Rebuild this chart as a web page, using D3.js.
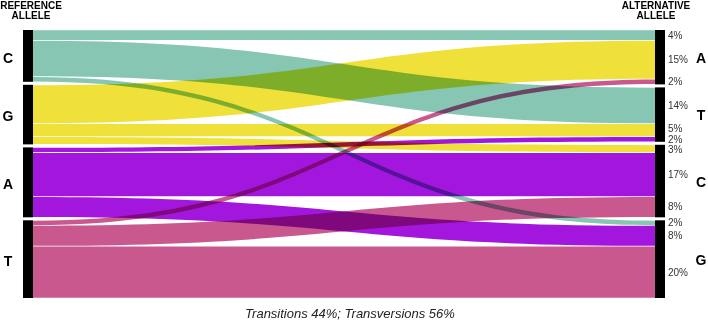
<!DOCTYPE html>
<html>
<head>
<meta charset="utf-8">
<script src="https://cdn.jsdelivr.net/npm/d3@7"></script>
<style>
  body { margin: 0; background: #fff; }
  svg { display: block; background: #fff; }
  .flow { mix-blend-mode: multiply; }
</style>
</head>
<body>
<div id="chart"></div>
<script>
// reference / alternative allele order, top to bottom
const refAlleles = ["C", "G", "A", "T"];
const altAlleles = ["A", "T", "C", "G"];

// substitutions (percent of all)
const sources  = ["C", "C", "C", "G", "G", "G", "A", "A", "A", "T", "T", "T"];
const targets  = ["A", "T", "G", "A", "T", "C", "T", "C", "G", "A", "C", "G"];
const percents = [4, 14, 2, 15, 5, 3, 2, 17, 8, 2, 8, 20];

const caption = "Transitions 44%; Transversions 56%";

const alleleColors = {C: "#86c6b2", G: "#f0e03a", A: "#a216de", T: "#c9588f"};

const width = 708, height = 323;
const margin = {top: 30, bottom: 25};
const nodeW = 10, pad = 3;
const xLeft = 23, xRight = 655;

const svg = d3.select("#chart").append("svg")
  .attr("width", width).attr("height", height);

const flows = sources.map((s, i) => ({source: s, target: targets[i], value: percents[i]}));
const total = d3.sum(percents);

const y = d3.scaleLinear()
  .domain([0, total])
  .range([0, height - margin.top - margin.bottom - pad * (refAlleles.length - 1)]);

function layoutNodes(names, key) {
  let y0 = margin.top;
  return names.map(n => {
    const v = d3.sum(flows.filter(f => f[key] === n), f => f.value);
    const node = {name: n, y0: y0, y1: y0 + y(v)};
    y0 = node.y1 + pad;
    return node;
  });
}

const leftNodes = layoutNodes(refAlleles, "source");
const rightNodes = layoutNodes(altAlleles, "target");

// stack flows inside each node
leftNodes.forEach(n => {
  let yy = n.y0;
  flows.filter(f => f.source === n.name)
    .sort((a, b) => altAlleles.indexOf(a.target) - altAlleles.indexOf(b.target))
    .forEach(f => { f.sy0 = yy; yy += y(f.value); f.sy1 = yy; });
});
rightNodes.forEach(n => {
  let yy = n.y0;
  flows.filter(f => f.target === n.name)
    .sort((a, b) => refAlleles.indexOf(a.source) - refAlleles.indexOf(b.source))
    .forEach(f => { f.ty0 = yy; yy += y(f.value); f.ty1 = yy; });
});

const x0 = xLeft + nodeW, x1 = xRight, xm = (x0 + x1) / 2;
const inset = 0.35;

function ribbon(f) {
  const a0 = f.sy0 + inset, a1 = f.sy1 - inset, b0 = f.ty0 + inset, b1 = f.ty1 - inset;
  const p = d3.path();
  p.moveTo(x0, a0);
  p.bezierCurveTo(xm, a0, xm, b0, x1, b0);
  p.lineTo(x1, b1);
  p.bezierCurveTo(xm, b1, xm, a1, x0, a1);
  p.closePath();
  return p.toString();
}

const flowG = svg.append("g").style("isolation", "isolate");
flowG.selectAll("path")
  .data(flows)
  .enter().append("path")
  .attr("class", "flow")
  .attr("d", ribbon)
  .attr("fill", d => alleleColors[d.source]);

// node bars
svg.append("g").selectAll("rect")
  .data(leftNodes)
  .enter().append("rect")
  .attr("x", xLeft).attr("y", d => d.y0)
  .attr("width", nodeW).attr("height", d => d.y1 - d.y0)
  .attr("fill", "#000");

svg.append("g").selectAll("rect")
  .data(rightNodes)
  .enter().append("rect")
  .attr("x", xRight).attr("y", d => d.y0)
  .attr("width", nodeW).attr("height", d => d.y1 - d.y0)
  .attr("fill", "#000");

const font = "'Liberation Sans', Arial, sans-serif";

// allele letters
svg.append("g").selectAll("text")
  .data(leftNodes)
  .enter().append("text")
  .attr("x", 8).attr("y", d => (d.y0 + d.y1) / 2 + 2)
  .attr("dy", "0.35em")
  .attr("text-anchor", "middle")
  .style("font", "bold 14px " + font)
  .text(d => d.name);

svg.append("g").selectAll("text")
  .data(rightNodes)
  .enter().append("text")
  .attr("x", 701).attr("y", d => (d.y0 + d.y1) / 2 + 1)
  .attr("dy", "0.35em")
  .attr("text-anchor", "middle")
  .style("font", "bold 14px " + font)
  .text(d => d.name);

// percent labels at the right side, nudged apart when crowded
const labels = rightNodes.flatMap(n => flows.filter(f => f.target === n.name)
  .sort((a, b) => a.ty0 - b.ty0))
  .map(f => ({text: f.value + "%", y: (f.ty0 + f.ty1) / 2}));
const minGap = 10.5;
for (let k = 0; k < 20; k++) {
  for (let i = 1; i < labels.length; i++) {
    const d = labels[i].y - labels[i - 1].y;
    if (d < minGap) {
      const s = (minGap - d) / 2;
      labels[i - 1].y -= s;
      labels[i].y += s;
    }
  }
}

svg.append("g").selectAll("text")
  .data(labels)
  .enter().append("text")
  .attr("x", 668).attr("y", d => d.y)
  .attr("dy", "0.35em")
  .style("font", "10px " + font)
  .attr("fill", "#333")
  .text(d => d.text);

// headers
function header(x, lines) {
  svg.append("text")
    .attr("x", x).attr("y", 9)
    .attr("text-anchor", "middle")
    .style("font", "bold 10px " + font)
    .selectAll("tspan")
    .data(lines)
    .enter().append("tspan")
    .attr("x", x)
    .attr("dy", (d, i) => i ? 10 : 0)
    .text(d => d);
}
header(31, ["REFERENCE", "ALLELE"]);
header(656, ["ALTERNATIVE", "ALLELE"]);

svg.append("text")
  .attr("x", 350).attr("y", 318)
  .attr("text-anchor", "middle")
  .style("font", "italic 13px " + font)
  .attr("fill", "#222")
  .text(caption);
</script>
</body>
</html>
